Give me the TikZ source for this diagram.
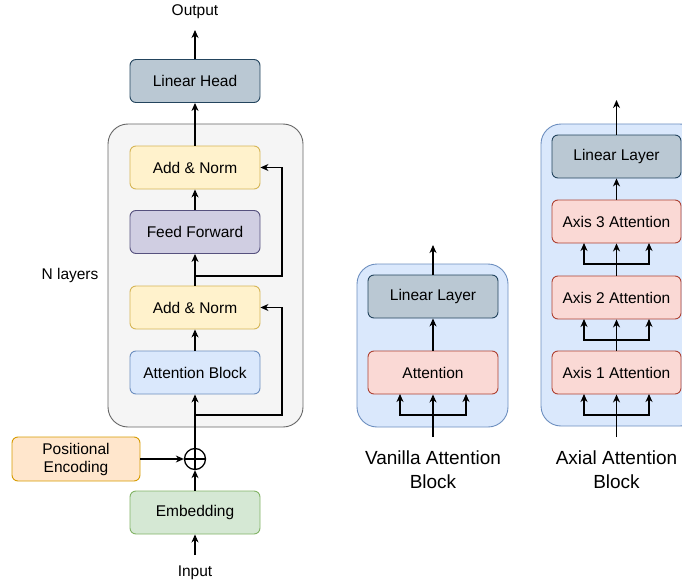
\documentclass[tikz,border=0pt]{standalone}
\usepackage{fontspec}
\setmainfont{Liberation Sans}
\usetikzlibrary{arrows.meta,positioning,calc}
\definecolor{hdfill}{HTML}{BAC8D3}\definecolor{hddraw}{HTML}{23445D}
\definecolor{grfill}{HTML}{F5F5F5}\definecolor{grdraw}{HTML}{666666}
\definecolor{ylfill}{HTML}{FFF2CC}\definecolor{yldraw}{HTML}{D6B656}
\definecolor{pufill}{HTML}{D0CEE2}\definecolor{pudraw}{HTML}{56517E}
\definecolor{blfill}{HTML}{DAE8FC}\definecolor{bldraw}{HTML}{6C8EBF}
\definecolor{orfill}{HTML}{FFE6CC}\definecolor{ordraw}{HTML}{D79B00}
\definecolor{gnfill}{HTML}{D5E8D4}\definecolor{gndraw}{HTML}{82B366}
\definecolor{rdfill}{HTML}{FAD9D5}\definecolor{rddraw}{HTML}{AE4132}
\tikzset{
  px/.style={x=1pt,y=-1pt},
  blk/.style={rounded corners=6pt,line width=0.9pt,minimum width=130pt,minimum height=43pt,font=\fontsize{15.5}{18}\selectfont,inner sep=0pt,align=center},
  cont/.style={rounded corners=20pt,line width=0.9pt},
  arr/.style={line width=1.1pt,-{Stealth[length=8pt,width=7pt,inset=2.5pt]}},
  ln/.style={line width=1.1pt},
  lbl/.style={font=\fontsize{15.5}{18}\selectfont,inner sep=0pt},
  biglbl/.style={font=\fontsize{19}{24}\selectfont,inner sep=0pt,align=center},
}
\begin{document}
\begin{tikzpicture}[px]
\useasboundingbox (0,0) rectangle (682,583);
\clip (0,0) rectangle (682,583);
% ---- left stack
\draw[cont,fill=grfill,draw=grdraw] (108,124) rectangle (303,427);
\node[blk,fill=hdfill,draw=hddraw] (head) at (195,81) {Linear Head};
\node[lbl] (out) at (195,12) {Output};
\node[blk,fill=ylfill,draw=yldraw] (an2) at (195,167.5) {Add \& Norm};
\node[blk,fill=pufill,draw=pudraw] (ff) at (195,232) {Feed Forward};
\node[blk,fill=ylfill,draw=yldraw] (an1) at (195,307.5) {Add \& Norm};
\node[blk,fill=blfill,draw=bldraw] (att) at (195,372.5) {Attention Block};
\node[lbl] (nl) at (70,275) {N layers};
\node[draw,circle,line width=1.3pt,minimum size=21pt,inner sep=0pt] (plus) at (195,459) {};
\draw[line width=1.3pt] (plus.north) -- (plus.south) (plus.west) -- (plus.east);
\node[blk,fill=orfill,draw=ordraw,minimum width=128pt,minimum height=44pt] (pe) at (76,459) {Positional\\Encoding};
\node[blk,fill=gnfill,draw=gndraw] (emb) at (195,512.5) {Embedding};
\node[lbl] (in) at (195,573) {Input};
\coordinate (inTop) at (195,555);
\coordinate (outBot) at (195,30);
\coordinate (br1) at (195,415);
\coordinate (br2) at (195,276);
% connectors
\draw[arr] (inTop) -- (emb.north |- emb.south);
\draw[arr] (emb) -- (plus);
\draw[arr] (pe) -- (plus);
\draw[arr] (plus) -- (att);
\draw[arr] (att) -- (an1);
\draw[arr] (an1) -- (ff);
\draw[arr] (ff) -- (an2);
\draw[arr] (an2) -- (head);
\draw[arr] (head) -- (outBot);
\draw[arr] (br1) -| (282,307.5) -- (an1.east);
\draw[arr] (br2) -| (282,167.5) -- (an2.east);
% ---- vanilla block
\draw[cont,fill=blfill,draw=bldraw] (357,264) rectangle (508,427);
\node[blk,fill=hdfill,draw=hddraw] (vll) at (433,296.5) {Linear Layer};
\node[blk,fill=rdfill,draw=rddraw] (vat) at (433,372.5) {Attention};
\coordinate (vin) at (433,437);
\coordinate (vout) at (433,245);
\coordinate (vbr) at (433,415);
\draw[arr] (vin) -- (vat);
\draw[arr] (vbr) -| (400,394);
\draw[arr] (vbr) -| (466,394);
\draw[arr] (vat) -- (vll);
\draw[arr] (vll) -- (vout);
\node[biglbl] (vlab) at (433,470) {Vanilla Attention\\Block};
% ---- axial block
\draw[cont,fill=blfill,draw=bldraw] (541,124) rectangle (700,426);
\node[blk,fill=hdfill,draw=hddraw,minimum width=129pt] (all) at (616.5,156.5) {Linear Layer};
\node[blk,fill=rdfill,draw=rddraw,minimum width=129pt] (ax3) at (616.5,221.5) {Axis 3 Attention};
\node[blk,fill=rdfill,draw=rddraw,minimum width=129pt] (ax2) at (616.5,297.5) {Axis 2 Attention};
\node[blk,fill=rdfill,draw=rddraw,minimum width=129pt] (ax1) at (616.5,372.5) {Axis 1 Attention};
\coordinate (ain) at (616.5,437);
\coordinate (aout) at (616.5,100);
\coordinate (abr1) at (616.5,415);
\coordinate (abr2) at (616.5,340);
\coordinate (abr3) at (616.5,264);
\draw[arr] (ain) -- (ax1);
\draw[arr] (abr1) -| (584,394);
\draw[arr] (abr1) -| (649,394);
\draw[arr] (ax1) -- (ax2);
\draw[arr] (abr2) -| (584,319);
\draw[arr] (abr2) -| (649,319);
\draw[arr] (ax2) -- (ax3);
\draw[arr] (abr3) -| (584,243);
\draw[arr] (abr3) -| (649,243);
\draw[arr] (ax3) -- (all);
\draw[arr] (all) -- (aout);
\node[biglbl] (alab) at (616.5,470) {Axial Attention\\Block};
\end{tikzpicture}
\end{document}
